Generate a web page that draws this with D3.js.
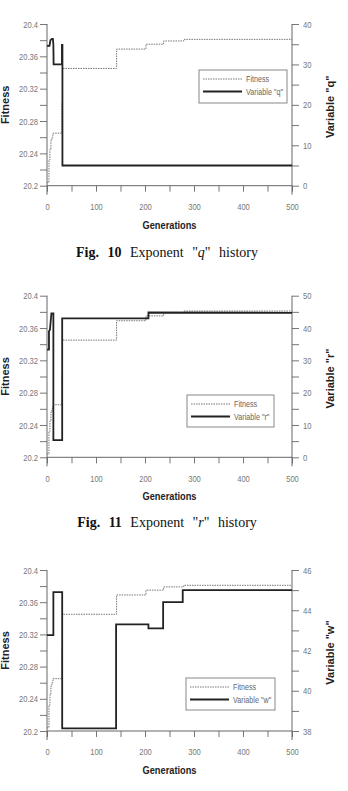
<!DOCTYPE html>
<html>
<head>
<meta charset="utf-8">
<script src="https://cdn.jsdelivr.net/npm/d3@7"></script>
<style>
  html, body { margin: 0; padding: 0; background: #fff; }
  svg { display: block; }
  .tick text { font-family: 'Liberation Sans', Arial, sans-serif; font-size: 9.5px; fill: #777; }
</style>
</head>
<body>
<svg id="chart" width="348" height="791"></svg>
<script>
// ---- data ----
const generationTicks = [0, 50, 100, 150, 200, 250, 300, 350, 400, 450, 500];
const generationLabels = [0, 100, 200, 300, 400, 500];
const fitnessTicks = [20.2, 20.22, 20.24, 20.26, 20.28, 20.3, 20.32, 20.34, 20.36, 20.38, 20.4];
const fitnessLabels = [20.2, 20.24, 20.28, 20.32, 20.36, 20.4];

const fitnessGen = [0, 4, 6, 8, 10, 12, 30.5, 31.5, 142, 202, 238, 279, 500];
const fitnessVal = [20.204, 20.232, 20.245, 20.256, 20.26, 20.265, 20.303, 20.345, 20.369, 20.375, 20.379, 20.381, 20.381];

const qGen = [0, 5, 7, 10, 12, 13, 13.5, 30.5, 30.5, 31.5, 31.5, 500];
const qVal = [34.6, 34.6, 36, 36.3, 36.3, 35, 30, 30, 34.8, 34.8, 5, 5];
const qTicks = [0, 5, 10, 15, 20, 25, 30, 35, 40];
const qLabels = [0, 10, 20, 30, 40];

const rGen = [0, 4, 4, 6, 9, 13, 13, 31, 31, 207, 207, 500];
const rVal = [33.3, 33.3, 39, 39.5, 44.5, 44.5, 5.3, 5.3, 43, 43, 44.8, 44.7];
const rTicks = [0, 5, 10, 15, 20, 25, 30, 35, 40, 45, 50];
const rLabels = [0, 10, 20, 30, 40, 50];

const wGen = [0, 13, 13, 31, 31, 141, 141, 207, 207, 237, 237, 277, 277, 500];
const wVal = [42.76, 42.76, 44.9, 44.9, 38.13, 38.13, 43.3, 43.3, 43.1, 43.1, 44.4, 44.4, 45.0, 45.0];
const wTicks = [38, 39, 40, 41, 42, 43, 44, 45, 46];
const wLabels = [38, 40, 42, 44, 46];

const varNames = ['q', 'r', 'w'];
const captionNums = ['10', '11'];

// ---- helpers ----
function condense(sel, k) {
  sel.each(function () {
    const len = this.getComputedTextLength();
    if (len > 0) {
      d3.select(this).attr('textLength', len * k).attr('lengthAdjust', 'spacingAndGlyphs');
    }
  });
}

// ---- layout ----
const svg = d3.select('#chart');
svg.append('rect').attr('width', 348).attr('height', 791).attr('fill', '#fff');

const left = 47, right = 292;
const x = d3.scaleLinear().domain([0, 500]).range([left, right]);

const charts = [
  { top: 24, bottom: 185.7, gen: qGen, val: qVal, ticks: qTicks, labels: qLabels, name: varNames[0],
    legend: { x: 199, y: 70, w: 88, h: 33 }, caption: { num: captionNums[0], y: 257 } },
  { top: 295.7, bottom: 457.3, gen: rGen, val: rVal, ticks: rTicks, labels: rLabels, name: varNames[1],
    legend: { x: 187, y: 395, w: 87, h: 32 }, caption: { num: captionNums[1], y: 527 } },
  { top: 570, bottom: 731, gen: wGen, val: wVal, ticks: wTicks, labels: wLabels, name: varNames[2],
    legend: { x: 186, y: 678, w: 89, h: 32 }, caption: null }
];

charts.forEach(c => {
  const g = svg.append('g');
  const yF = d3.scaleLinear().domain([20.2, 20.4]).range([c.bottom, c.top]);
  const yV = d3.scaleLinear().domain(d3.extent(c.ticks)).range([c.bottom, c.top]);

  // axes
  const fmtF = d => fitnessLabels.some(v => Math.abs(v - d) < 1e-6) ? String(+d.toFixed(2)) : '';
  const ax = g.append('g').attr('transform', `translate(${left},0)`)
    .call(d3.axisLeft(yF).tickValues(fitnessTicks).tickSize(7).tickSizeOuter(0).tickPadding(2).tickFormat(fmtF));
  const axR = g.append('g').attr('transform', `translate(${right},0)`)
    .call(d3.axisRight(yV).tickValues(c.ticks).tickSize(7).tickSizeOuter(0).tickPadding(4)
      .tickFormat(d => c.labels.includes(d) ? d : ''));
  const axB = g.append('g').attr('transform', `translate(0,${c.bottom})`)
    .call(d3.axisBottom(x).tickValues(generationTicks).tickSize(6).tickSizeOuter(0).tickPadding(11.5)
      .tickFormat(d => generationLabels.includes(d) ? d : ''));
  [ax, axR, axB].forEach(a => {
    a.select('.domain').remove();
    a.selectAll('.tick line').attr('stroke', '#777');
    condense(a.selectAll('.tick text'), 0.8);
  });
  // axis lines
  g.append('line').attr('x1', left).attr('x2', left).attr('y1', yF(20.4)).attr('y2', c.bottom + 9).attr('stroke', '#666');
  g.append('line').attr('x1', right).attr('x2', right).attr('y1', yF(20.4)).attr('y2', c.bottom + 9).attr('stroke', '#666');
  g.append('line').attr('x1', left).attr('x2', right).attr('y1', c.bottom).attr('y2', c.bottom).attr('stroke', '#666');

  // fitness series
  const fitData = fitnessGen.map((gv, i) => [gv, fitnessVal[i]]);
  g.append('path').datum(fitData)
    .attr('d', d3.line().x(d => x(d[0])).y(d => yF(d[1])).curve(d3.curveStepAfter))
    .attr('fill', 'none').attr('stroke', '#777').attr('stroke-width', 1).attr('stroke-dasharray', '1.5,1');

  // variable series
  const varData = c.gen.map((gv, i) => [gv, c.val[i]]);
  g.append('path').datum(varData)
    .attr('d', d3.line().x(d => x(d[0])).y(d => yV(d[1])))
    .attr('fill', 'none').attr('stroke', '#222').attr('stroke-width', 1.8);

  // axis titles
  const mid = (c.top + c.bottom) / 2;
  g.append('text').attr('transform', `translate(9,${mid}) rotate(-90)`)
    .attr('text-anchor', 'middle').attr('font-family', 'Liberation Sans, Arial, sans-serif')
    .attr('font-weight', 'bold').attr('font-size', 11).attr('fill', '#222').text('Fitness');
  g.append('text').attr('transform', `translate(334,${mid + 2}) rotate(-90)`)
    .attr('text-anchor', 'middle').attr('font-family', 'Liberation Sans, Arial, sans-serif')
    .attr('font-weight', 'bold').attr('font-size', 11).attr('fill', '#222').text(`Variable "${c.name}"`);
  const gt = g.append('text').attr('x', (left + right) / 2).attr('y', c.bottom + 43)
    .attr('text-anchor', 'middle').attr('font-family', 'Liberation Sans, Arial, sans-serif')
    .attr('font-weight', 'bold').attr('font-size', 10.5).attr('fill', '#222').text('Generations');
  condense(gt, 0.88);

  // legend
  const L = c.legend;
  const lg = g.append('g');
  lg.append('rect').attr('x', L.x).attr('y', L.y).attr('width', L.w).attr('height', L.h)
    .attr('fill', '#fff').attr('stroke', '#888').attr('stroke-width', 1);
  const y1 = L.y + 9, y2 = L.y + 21.5;
  lg.append('line').attr('x1', L.x + 4).attr('x2', L.x + 43).attr('y1', y1).attr('y2', y1)
    .attr('stroke', '#777').attr('stroke-dasharray', '1.5,1');
  lg.append('line').attr('x1', L.x + 4).attr('x2', L.x + 43).attr('y1', y2).attr('y2', y2)
    .attr('stroke', '#222').attr('stroke-width', 1.8);
  const lt = (t, yy) => lg.append('text').attr('x', L.x + 47).attr('y', yy).attr('dy', '0.35em')
    .attr('font-family', 'Liberation Sans, Arial, sans-serif')
    .attr('font-size', 9).attr('fill', '#666').text(t);
  condense(lt('Fitness', y1), 0.8);
  condense(lt(`Variable "${c.name}"`, y2), 0.8);

  // caption
  if (c.caption) {
    const t = svg.append('text').attr('x', 167).attr('y', c.caption.y).attr('text-anchor', 'middle')
      .attr('font-family', 'Liberation Serif, Times New Roman, serif').attr('font-size', 14)
      .attr('fill', '#111').attr('word-spacing', 5);
    t.append('tspan').attr('font-weight', 'bold').text(`Fig. ${c.caption.num}`);
    t.append('tspan').text(' Exponent "');
    t.append('tspan').attr('font-style', 'italic').text(c.name);
    t.append('tspan').text('" history');
  }
});
</script>
</body>
</html>
